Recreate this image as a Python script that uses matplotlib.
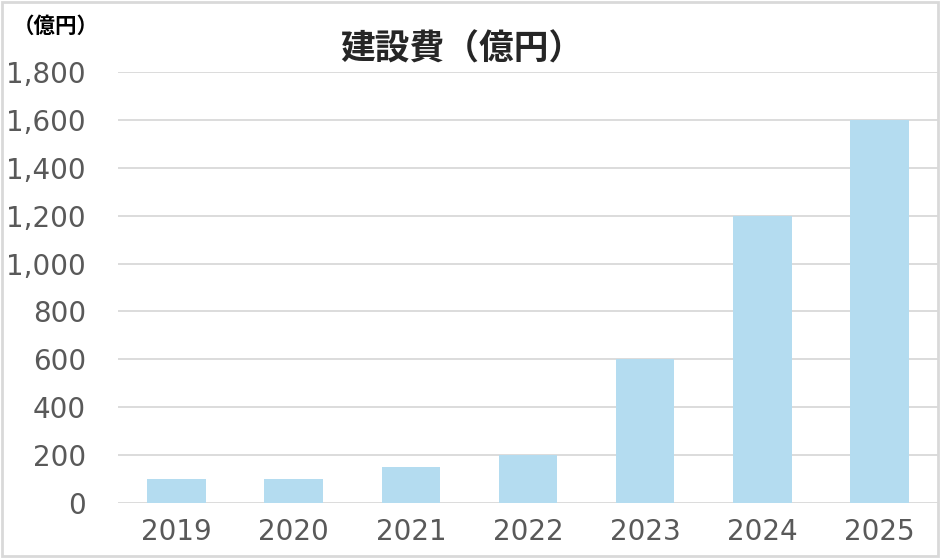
import matplotlib
matplotlib.use('Agg')
import matplotlib.pyplot as plt
from matplotlib.patches import Rectangle

plt.rcParams['font.family'] = ['Noto Sans CJK JP', 'DejaVu Sans']

years = ['2019', '2020', '2021', '2022', '2023', '2024', '2025']
cost = [100, 100, 150, 200, 600, 1200, 1600]
yticks = [0, 200, 400, 600, 800, 1000, 1200, 1400, 1600, 1800]

fig = plt.figure(figsize=(9.4, 5.58), dpi=100)
ax = fig.add_axes([118/940, 1-503/558, 820/940, (503-72)/558])

ax.bar(range(len(years)), cost, width=0.5, color='#b4dcf0', zorder=3)
ax.set_xlim(-0.5, len(years)-0.5)
ax.set_ylim(0, 1800)
ax.set_yticks(yticks)
ax.set_yticklabels(['{:,}'.format(v) for v in yticks], family='DejaVu Sans')
ax.set_xticks(range(len(years)))
ax.set_xticklabels(years, family='DejaVu Sans')
ax.grid(axis='y', color='#d9d9d9', linewidth=1.3, zorder=0)
for s in ax.spines.values():
    s.set_visible(False)
ax.tick_params(length=0, labelsize=20, colors='#595959', pad=11)
ax.tick_params(axis='y', pad=23)

fig.text(462/940, 1-49/558, '建設費（億円）', ha='center', va='center',
         fontsize=25, fontweight='bold', color='#262626')
fig.text(13/940, 1-26/558, '（億円）', ha='left', va='center',
         fontsize=15.5, fontweight='bold', color='#000000')

fig.patches.append(Rectangle((0.002, 0.003), 0.996, 0.994, transform=fig.transFigure,
                             fill=False, edgecolor='#d9d9d9', linewidth=2))

fig.savefig('out.png', dpi=100, facecolor='white')
